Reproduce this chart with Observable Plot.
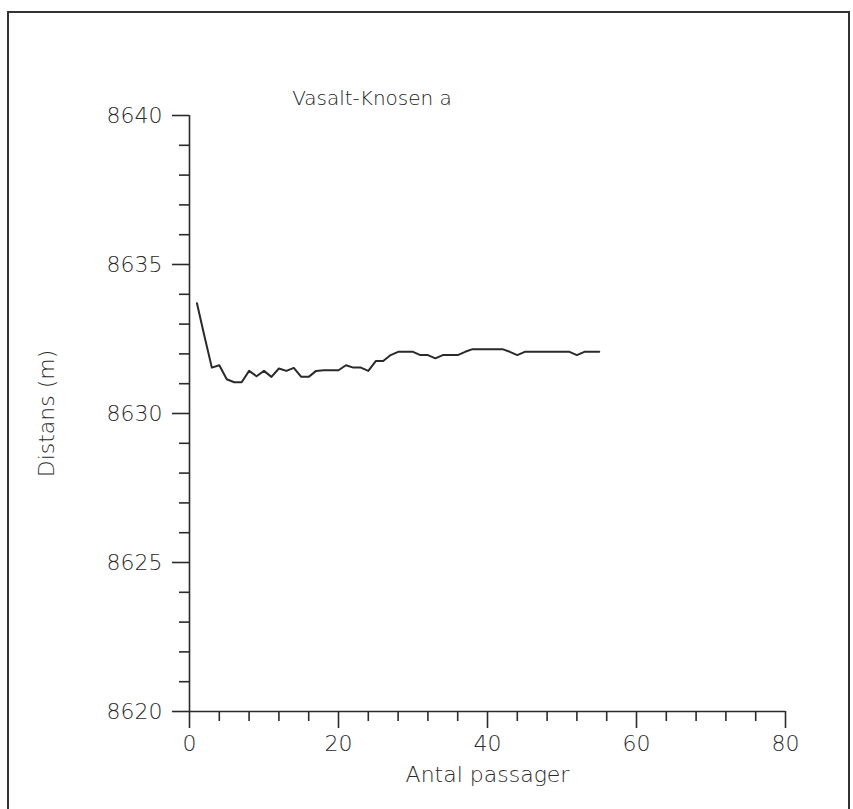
<!DOCTYPE html>
<html>
<head>
<meta charset="utf-8">
<script src="https://cdn.jsdelivr.net/npm/d3@7"></script>
<script src="https://cdn.jsdelivr.net/npm/@observablehq/plot@0.6"></script>
<style>
  body { margin: 0; background: #ffffff; }
  #wrap { position: relative; width: 853px; height: 809px; overflow: hidden; background: #fff; }
  #frame { position: absolute; left: 7px; top: 11px; width: 843px; height: 830px; border: 2px solid #333; box-sizing: border-box; pointer-events: none; }
  #title { position: absolute; left: 0; width: 744px; top: 86px; text-align: center; font: 200 20px "DejaVu Sans", "Open Sans", sans-serif; color: #222; }
  #chart { position: absolute; left: 0; top: 0; }
</style>
</head>
<body>
<div id="wrap">
  <div id="chart"></div>
  <div id="title"></div>
  <div id="frame"></div>
</div>
<script>
const titleText = "Vasalt-Knosen a";
const xLabel = "Antal passager";
const yLabel = "Distans (m)";

const passages = [1,2,3,4,5,6,7,8,9,10,11,12,13,14,15,16,17,18,19,20,21,22,23,24,25,26,27,28,29,30,31,32,33,34,35,36,37,38,39,40,41,42,43,44,45,46,47,48,49,50,51,52,53,54,55];
const distances = [8633.7,8632.6,8631.54,8631.62,8631.15,8631.05,8631.05,8631.43,8631.25,8631.43,8631.23,8631.51,8631.43,8631.53,8631.23,8631.23,8631.43,8631.45,8631.45,8631.45,8631.62,8631.54,8631.54,8631.43,8631.76,8631.76,8631.96,8632.07,8632.07,8632.07,8631.96,8631.96,8631.85,8631.96,8631.96,8631.96,8632.07,8632.16,8632.16,8632.16,8632.16,8632.16,8632.07,8631.96,8632.07,8632.07,8632.07,8632.07,8632.07,8632.07,8632.07,8631.96,8632.07,8632.07,8632.07];

const xMajorTicks = [0,20,40,60,80];
const xMinorTicks = [4,8,12,16,24,28,32,36,44,48,52,56,64,68,72,76];
const yMajorTicks = [8620,8625,8630,8635,8640];
const yMinorTicks = [8621,8622,8623,8624,8626,8627,8628,8629,8631,8632,8633,8634,8636,8637,8638,8639];

const data = passages.map((p, i) => ({p, d: distances[i]}));
const ink = "#2a2a2a";

const chart = Plot.plot({
  width: 853,
  height: 809,
  marginLeft: 189,
  marginRight: 68,
  marginTop: 115,
  marginBottom: 98,
  style: { fontFamily: '"DejaVu Sans", "Open Sans", sans-serif', fontSize: "22px", fontWeight: 200, color: ink, background: "transparent" },
  x: { domain: [0, 80] },
  y: { domain: [8620, 8640] },
  marks: [
    Plot.axisX(xMinorTicks, { tickSize: 10, tickFormat: () => "", stroke: ink, strokeWidth: 1.6, label: null }),
    Plot.axisX(xMajorTicks, { tickSize: 17, tickPadding: 7, stroke: ink, strokeWidth: 1.6, fill: ink, label: xLabel, labelAnchor: "center", labelOffset: 70, labelArrow: "none" }),
    Plot.axisY(yMinorTicks, { tickSize: 10, tickFormat: () => "", stroke: ink, strokeWidth: 1.6, label: null }),
    Plot.axisY(yMajorTicks, { tickSize: 17, tickPadding: 10, stroke: ink, strokeWidth: 1.6, fill: ink, tickFormat: d => String(d), label: yLabel, labelAnchor: "center", labelOffset: 151, labelArrow: "none" }),
    Plot.ruleX([0], { stroke: ink, strokeWidth: 1.6 }),
    Plot.ruleY([8620], { stroke: ink, strokeWidth: 1.6 }),
    Plot.line(data, { x: "p", y: "d", stroke: ink, strokeWidth: 2 })
  ]
});
document.getElementById("chart").appendChild(chart);
document.getElementById("title").textContent = titleText;
</script>
</body>
</html>
